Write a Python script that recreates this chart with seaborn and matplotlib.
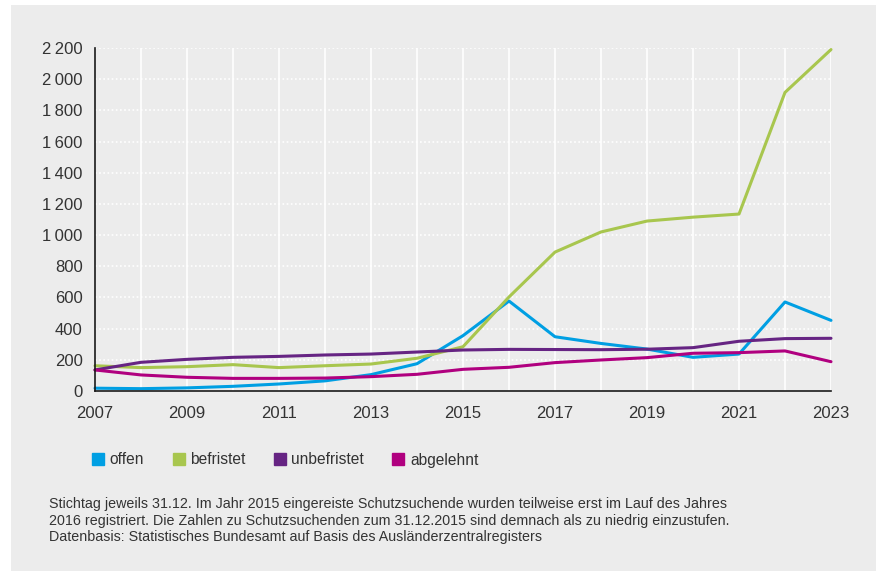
import pandas as pd
import matplotlib.pyplot as plt
import seaborn as sns
from matplotlib.lines import Line2D
from matplotlib.patches import Rectangle
from matplotlib.ticker import FixedLocator, MultipleLocator, FuncFormatter

# Daten
jahre = list(range(2007, 2024))
offen = [18, 15, 20, 30, 45, 65, 105, 175, 355, 577, 348, 305, 269, 216, 237, 571, 453]
befristet = [162, 150, 156, 169, 150, 162, 173, 210, 284, 603, 891, 1020, 1090, 1115, 1135, 1915, 2190]
unbefristet = [135, 184, 203, 216, 222, 231, 237, 250, 263, 267, 266, 265, 268, 278, 319, 336, 338]
abgelehnt = [135, 103, 88, 81, 81, 83, 92, 107, 139, 152, 182, 199, 214, 242, 246, 257, 188]

serien = ['offen', 'befristet', 'unbefristet', 'abgelehnt']
farben = ['#009fe3', '#a8c64e', '#662483', '#b0007f']

df = pd.DataFrame({'Jahr': jahre, 'offen': offen, 'befristet': befristet,
                   'unbefristet': unbefristet, 'abgelehnt': abgelehnt})
df_long = df.melt(id_vars='Jahr', var_name='Status', value_name='Anzahl')

# Stil
sns.set_theme(style="white")
plt.rcParams['font.family'] = ['Liberation Sans', 'DejaVu Sans']

fig = plt.figure(figsize=(8.76, 5.71), dpi=100)
fig.patch.set_facecolor('white')
fig.patches.append(Rectangle((11 / 876, 0), 1, 1 - 5 / 571, transform=fig.transFigure,
                             facecolor='#ececec', edgecolor='none', zorder=-10))

ax = fig.add_axes([95 / 876, 1 - 391 / 571, (831 - 95) / 876, (391 - 48) / 571])
ax.set_facecolor('#ececec')

sns.lineplot(data=df_long, x='Jahr', y='Anzahl', hue='Status', hue_order=serien,
             palette=farben, linewidth=2.2, ax=ax, legend=False, clip_on=False)

ax.set_xlim(2007, 2023)
ax.set_ylim(0, 2200)
ax.xaxis.set_major_locator(FixedLocator(jahre[::2]))
ax.xaxis.set_minor_locator(FixedLocator(jahre[1::2]))
ax.xaxis.set_major_formatter(FuncFormatter(lambda v, p: f"{int(v)}"))
ax.yaxis.set_major_locator(MultipleLocator(200))
ax.yaxis.set_major_formatter(FuncFormatter(lambda v, p: f"{int(v):,}".replace(',', '\u2009')))

# Gitter
ax.grid(False)
for j in jahre[1:]:
    ax.axvline(j, color='white', linewidth=1.2, zorder=0)
for v in range(200, 2201, 200):
    ax.axhline(v, color='white', linewidth=1.2, linestyle=(0, (1, 1.5)), zorder=0)

for s in ['top', 'right']:
    ax.spines[s].set_visible(False)
for s in ['left', 'bottom']:
    ax.spines[s].set_color('#1a1a1a')
    ax.spines[s].set_linewidth(1.2)

ax.tick_params(axis='both', which='both', direction='out', color='#1a1a1a',
               labelcolor='#333333', labelsize=12)
ax.tick_params(axis='x', which='both', length=6, width=1.2, pad=5)
ax.tick_params(axis='y', length=5, width=1.2, pad=4)
ax.set_xlabel('')
ax.set_ylabel('')

# Legende
handles = [Line2D([], [], marker='s', linestyle='none', markersize=8.5,
                  markerfacecolor=c, markeredgecolor=c) for c in farben]
fig.legend(handles, serien, loc='center left', bbox_to_anchor=(81 / 876, 1 - 460 / 571),
           ncol=4, frameon=False, fontsize=11.2, handletextpad=0.35, columnspacing=1.8,
           handlelength=0.8, labelcolor='#333333', borderpad=0.2)

# Fußnote
fussnote = ("Stichtag jeweils 31.12. Im Jahr 2015 eingereiste Schutzsuchende wurden teilweise erst im Lauf des Jahres\n"
            "2016 registriert. Die Zahlen zu Schutzsuchenden zum 31.12.2015 sind demnach als zu niedrig einzustufen.\n"
            "Datenbasis: Statistisches Bundesamt auf Basis des Ausländerzentralregisters")
fig.text(49 / 876, 1 - 497 / 571, fussnote, fontsize=10.3, color='#333333', va='top',
         linespacing=1.25)

plt.savefig('out.png', dpi=100)
plt.close()
